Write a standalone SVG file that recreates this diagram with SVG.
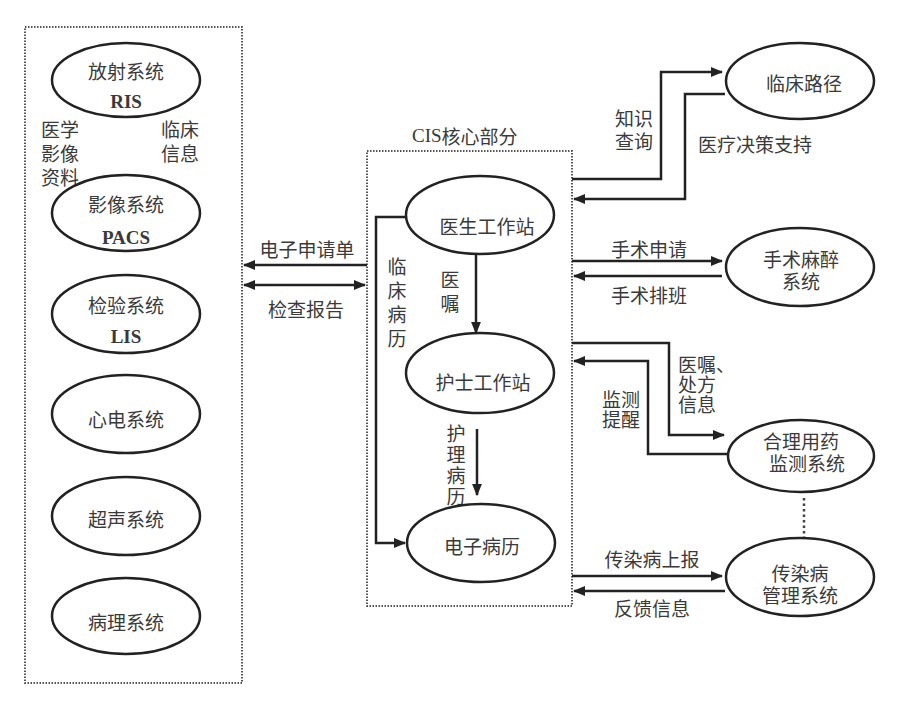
<svg xmlns="http://www.w3.org/2000/svg" width="914" height="706" viewBox="0 0 914 706">
<style>
.bg{fill:#ffffff}
.box{fill:none;stroke:#555;stroke-width:2;stroke-dasharray:1.5 1.5}
.node{fill:#ffffff;stroke:#222;stroke-width:2.5}
.t{font-family:"Noto Sans CJK SC","Noto Sans CJK JP",sans-serif;font-size:19px;fill:#3a3a3a;text-anchor:middle;dominant-baseline:central}
.tl{font-family:"Noto Sans CJK SC","Noto Sans CJK JP",sans-serif;font-size:19px;fill:#3a3a3a;text-anchor:start;dominant-baseline:central}
.lat{font-family:"Liberation Serif",serif;font-size:19px;font-weight:bold;fill:#3a3a3a;text-anchor:middle;dominant-baseline:central}
.c{fill:none;stroke:#222;stroke-width:2.5}
.arr{marker-end:url(#ah)}
.dot{fill:none;stroke:#444;stroke-width:2.5;stroke-dasharray:2.5 3}
</style>
<defs>
<marker id="ah" viewBox="0 0 10 10" refX="9" refY="5" markerWidth="5" markerHeight="5" orient="auto-start-reverse" markerUnits="strokeWidth">
<path d="M0,1 L10,5 L0,9 z" fill="#222"/>
</marker>
</defs>
<rect class="bg" x="0" y="0" width="914" height="706"/>

<g id="left-group">
<rect class="box" x="25" y="27" width="217" height="656"/>
</g>
<g id="cis-group">
<rect class="box" x="367" y="151" width="205" height="455"/>
<text class="tl" x="412" y="135"><tspan font-family="Liberation Serif,serif">CIS</tspan>核心部分</text>
</g>

<g id="connectors">
<path class="c arr" d="M367,265 L244,265"/>
<path class="c arr" d="M365,285 L244,285" marker-start="url(#ah)"/>
<path class="c arr" d="M476,255 L476,333"/>
<path class="c arr" d="M477,429 L477,495"/>
<path class="c arr" d="M406,217 L376,217 L376,543 L405,543"/>
<path class="c arr" d="M572,179 L661,179 L661,72 L722,72"/>
<path class="c arr" d="M725,94 L685,94 L685,199 L574,199"/>
<path class="c arr" d="M572,261 L722,261"/>
<path class="c arr" d="M722,276 L574,276"/>
<path class="c arr" d="M572,343 L669,343 L669,435 L724,435"/>
<path class="c arr" d="M728,454 L648,454 L648,361 L574,361"/>
<path class="dot" d="M804,498 L804,537"/>
<path class="c arr" d="M572,576 L722,576"/>
<path class="c arr" d="M725,591 L574,591"/>
</g>

<g id="labels">
<text class="t" x="60" y="128"><tspan x="60" y="128">医学</tspan><tspan x="60" y="152">影像</tspan><tspan x="60" y="176">资料</tspan></text>
<text class="t" x="180" y="128"><tspan x="180" y="128">临床</tspan><tspan x="180" y="152">信息</tspan></text>
<text class="t" x="307" y="248">电子申请单</text>
<text class="t" x="306" y="308">检查报告</text>
<text class="t" x="397" y="265"><tspan x="397" y="265">临</tspan><tspan x="397" y="289">床</tspan><tspan x="397" y="313">病</tspan><tspan x="397" y="337">历</tspan></text>
<text class="t" x="450" y="278"><tspan x="450" y="278">医</tspan><tspan x="450" y="302">嘱</tspan></text>
<text class="t" x="456" y="432" font-size="18"><tspan x="456" y="432">护</tspan><tspan x="456" y="453">理</tspan><tspan x="456" y="474">病</tspan><tspan x="456" y="495">历</tspan></text>
<text class="t" x="634" y="117"><tspan x="634" y="117">知识</tspan><tspan x="634" y="140">查询</tspan></text>
<text class="t" x="755" y="143">医疗决策支持</text>
<text class="t" x="649" y="248">手术申请</text>
<text class="t" x="649" y="294">手术排班</text>
<text class="tl" x="678" y="363"><tspan x="678" y="363">医嘱、</tspan><tspan x="678" y="383">处方</tspan><tspan x="678" y="403">信息</tspan></text>
<text class="t" x="621" y="398"><tspan x="621" y="398">监测</tspan><tspan x="621" y="418">提醒</tspan></text>
<text class="t" x="652" y="558">传染病上报</text>
<text class="t" x="652" y="607">反馈信息</text>
</g>

<g id="n-ris">
<ellipse class="node" cx="126" cy="80" rx="74" ry="37"/>
<text class="t" x="126" y="70">放射系统</text>
<text class="lat" x="126" y="101">RIS</text>
</g>
<g id="n-pacs">
<ellipse class="node" cx="126" cy="213" rx="74" ry="38"/>
<text class="t" x="126" y="203">影像系统</text>
<text class="lat" x="126" y="237">PACS</text>
</g>
<g id="n-lis">
<ellipse class="node" cx="126" cy="314" rx="74" ry="39"/>
<text class="t" x="126" y="304">检验系统</text>
<text class="lat" x="126" y="336">LIS</text>
</g>
<g id="n-ecg">
<ellipse class="node" cx="126" cy="414" rx="74" ry="39"/>
<text class="t" x="126" y="418">心电系统</text>
</g>
<g id="n-us">
<ellipse class="node" cx="126" cy="516" rx="74" ry="39"/>
<text class="t" x="126" y="518">超声系统</text>
</g>
<g id="n-path">
<ellipse class="node" cx="126" cy="616" rx="74" ry="38"/>
<text class="t" x="126" y="621">病理系统</text>
</g>

<g id="n-doctor">
<ellipse class="node" cx="480" cy="215" rx="74" ry="39"/>
<text class="t" x="487" y="225">医生工作站</text>
</g>
<g id="n-nurse">
<ellipse class="node" cx="480" cy="373" rx="74" ry="40"/>
<text class="t" x="483" y="381">护士工作站</text>
</g>
<g id="n-emr">
<ellipse class="node" cx="481" cy="543" rx="74" ry="39"/>
<text class="t" x="482" y="545">电子病历</text>
</g>

<g id="n-pathway">
<ellipse class="node" cx="800" cy="81" rx="74" ry="38"/>
<text class="t" x="804" y="82">临床路径</text>
</g>
<g id="n-surgery">
<ellipse class="node" cx="800" cy="267" rx="74" ry="39"/>
<text class="t" x="801" y="258"><tspan x="801" y="258">手术麻醉</tspan><tspan x="801" y="280">系统</tspan></text>
</g>
<g id="n-drug">
<ellipse class="node" cx="801" cy="456" rx="73" ry="36"/>
<text class="t" x="801" y="440"><tspan x="801" y="440">合理用药</tspan><tspan x="807" y="462">监测系统</tspan></text>
</g>
<g id="n-infect">
<ellipse class="node" cx="800" cy="577" rx="74" ry="39"/>
<text class="t" x="800" y="572"><tspan x="800" y="572">传染病</tspan><tspan x="800" y="594">管理系统</tspan></text>
</g>
</svg>
